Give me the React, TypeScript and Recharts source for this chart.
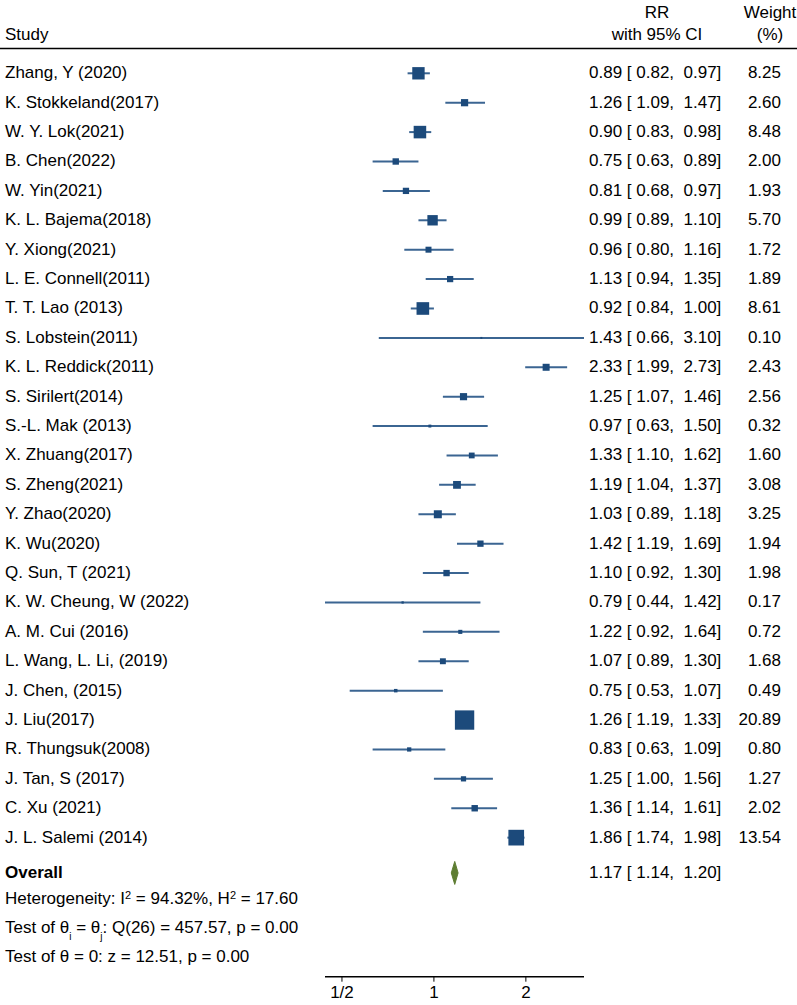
import React from 'react';
import { ComposedChart, Scatter, XAxis, YAxis, ErrorBar } from 'recharts';

const studies = [
  'Zhang, Y (2020)', 'K. Stokkeland(2017)', 'W. Y. Lok(2021)', 'B. Chen(2022)', 'W. Yin(2021)',
  'K. L. Bajema(2018)', 'Y. Xiong(2021)', 'L. E. Connell(2011)', 'T. T. Lao (2013)', 'S. Lobstein(2011)',
  'K. L. Reddick(2011)', 'S. Sirilert(2014)', 'S.-L. Mak (2013)', 'X. Zhuang(2017)', 'S. Zheng(2021)',
  'Y. Zhao(2020)', 'K. Wu(2020)', 'Q. Sun, T (2021)', 'K. W. Cheung, W (2022)', 'A. M. Cui (2016)',
  'L. Wang, L. Li, (2019)', 'J. Chen, (2015)', 'J. Liu(2017)', 'R. Thungsuk(2008)', 'J. Tan, S (2017)',
  'C. Xu (2021)', 'J. L. Salemi (2014)',
];
const rr = [0.89, 1.26, 0.90, 0.75, 0.81, 0.99, 0.96, 1.13, 0.92, 1.43, 2.33, 1.25, 0.97, 1.33, 1.19, 1.03, 1.42, 1.10, 0.79, 1.22, 1.07, 0.75, 1.26, 0.83, 1.25, 1.36, 1.86];
const ciLow = [0.82, 1.09, 0.83, 0.63, 0.68, 0.89, 0.80, 0.94, 0.84, 0.66, 1.99, 1.07, 0.63, 1.10, 1.04, 0.89, 1.19, 0.92, 0.44, 0.92, 0.89, 0.53, 1.19, 0.63, 1.00, 1.14, 1.74];
const ciHigh = [0.97, 1.47, 0.98, 0.89, 0.97, 1.10, 1.16, 1.35, 1.00, 3.10, 2.73, 1.46, 1.50, 1.62, 1.37, 1.18, 1.69, 1.30, 1.42, 1.64, 1.30, 1.07, 1.33, 1.09, 1.56, 1.61, 1.98];
const weights = [8.25, 2.60, 8.48, 2.00, 1.93, 5.70, 1.72, 1.89, 8.61, 0.10, 2.43, 2.56, 0.32, 1.60, 3.08, 3.25, 1.94, 1.98, 0.17, 0.72, 1.68, 0.49, 20.89, 0.80, 1.27, 2.02, 13.54];

const overallRR = 1.17;
const overallLow = 1.14;
const overallHigh = 1.20;

const xTicks = [0.5, 1, 2];
const xDomain = [0.44, 3.1];

const OVERALL_ROW = 27.2;
const FONT = '"Liberation Sans", Arial, sans-serif';
const SQUARE = '#1c4a7b';
const LINE = '#3b6592';
const GREEN = '#5e7d32';

const studyData = studies.map((s, i) => ({
  study: s,
  row: i,
  val: rr[i],
  lo: ciLow[i],
  hi: ciHigh[i],
  w: weights[i],
  err: [rr[i] - ciLow[i], ciHigh[i] - rr[i]],
}));

const diamondData = [
  { val: overallLow, row: OVERALL_ROW },
  { val: overallRR, row: OVERALL_ROW },
  { val: overallHigh, row: OVERALL_ROW },
];

const rowTicks = [...studyData.map((d) => d.row), OVERALL_ROW];

const fmt = (v: number) => v.toFixed(2);
const ciText = (m: number, l: number, h: number) => `${fmt(m)} [ ${fmt(l)},  ${fmt(h)}]`;

function NameTick(props: any) {
  const { y, payload } = props;
  if (payload.value === OVERALL_ROW) {
    return (
      <text x={5} y={y + 5} fontFamily={FONT} fontSize={17} fontWeight="bold" fill="#000">Overall</text>
    );
  }
  const d = studyData[payload.value];
  if (!d) return <g />;
  return (
    <text x={5} y={y + 5} fontFamily={FONT} fontSize={17} fill="#000">{d.study}</text>
  );
}

function StatTick(props: any) {
  const { y, payload } = props;
  if (payload.value === OVERALL_ROW) {
    return (
      <text x={589} y={y + 5} fontFamily={FONT} fontSize={17} fill="#000" style={{ whiteSpace: 'pre' }}>
        {ciText(overallRR, overallLow, overallHigh)}
      </text>
    );
  }
  const d = studyData[payload.value];
  if (!d) return <g />;
  return (
    <g>
      <text x={589} y={y + 5} fontFamily={FONT} fontSize={17} fill="#000" style={{ whiteSpace: 'pre' }}>
        {ciText(d.val, d.lo, d.hi)}
      </text>
      <text x={781} y={y + 5} textAnchor="end" fontFamily={FONT} fontSize={17} fill="#000">
        {fmt(d.w)}
      </text>
    </g>
  );
}

function WeightSquare(props: any) {
  const { cx, cy, payload } = props;
  const side = 4.1 * Math.sqrt(payload.w) + 0.6;
  return <rect x={cx - side / 2} y={cy - side / 2} width={side} height={side} fill={SQUARE} />;
}

function DiamondLine(props: any) {
  const pts = props.points || [];
  if (pts.length < 3) return <g />;
  const [l, m, r] = pts;
  const h = 11.5;
  const d = `M${l.x},${l.y} L${m.x},${m.y - h} L${r.x},${r.y} L${m.x},${m.y + h} Z`;
  return <path d={d} fill={GREEN} stroke={GREEN} strokeWidth={1} />;
}

export default function App() {
  return (
    <div style={{ position: 'absolute', top: 0, left: 0, width: 797, height: 1005, background: '#fff' }}>
      <ComposedChart width={797} height={1005} margin={{ top: 43.9, right: 0, bottom: 0, left: 0 }}>
        <XAxis
          dataKey="val"
          type="number"
          scale="log"
          domain={xDomain}
          allowDataOverflow
          ticks={xTicks}
          interval={0}
          height={28.3}
          tickSize={5}
          tickMargin={4}
          tickFormatter={(v: number) => (v === 0.5 ? '1/2' : String(v))}
          tick={{ fontSize: 17, fontFamily: FONT, fill: '#000' }}
          axisLine={{ stroke: '#000', strokeWidth: 1.5 }}
          tickLine={{ stroke: '#000' }}
        />
        <YAxis
          yAxisId="names"
          dataKey="row"
          type="number"
          domain={[-1, 30.73]}
          reversed
          allowDataOverflow
          ticks={rowTicks}
          interval={0}
          width={325}
          axisLine={false}
          tickLine={false}
          tick={<NameTick />}
        />
        <YAxis
          yAxisId="stats"
          orientation="right"
          dataKey="row"
          type="number"
          domain={[-1, 30.73]}
          reversed
          allowDataOverflow
          ticks={rowTicks}
          interval={0}
          width={213}
          axisLine={false}
          tickLine={false}
          tick={<StatTick />}
        />
        <Scatter yAxisId="names" data={studyData} shape={<WeightSquare />} isAnimationActive={false}>
          <ErrorBar dataKey="err" direction="x" width={0} stroke={LINE} strokeWidth={2} isAnimationActive={false} />
        </Scatter>
        <Scatter
          yAxisId="stats"
          data={diamondData}
          shape={() => <g />}
          line={DiamondLine}
          lineType="joint"
          isAnimationActive={false}
        />
      </ComposedChart>
      <svg width={797} height={1005} style={{ position: 'absolute', top: 0, left: 0, pointerEvents: 'none' }}>
        <g fontFamily={FONT} fontSize={17} fill="#000">
          <text x={5} y={40}>Study</text>
          <text x={657} y={18} textAnchor="middle">RR</text>
          <text x={657} y={40} textAnchor="middle">with 95% CI</text>
          <text x={770} y={18} textAnchor="middle">Weight</text>
          <text x={770} y={40} textAnchor="middle">(%)</text>
          <line x1={0} x2={797} y1={48.5} y2={48.5} stroke="#000" strokeWidth={1.5} />
          <text x={5} y={904}>
            Heterogeneity: I
            <tspan fontSize={11} dy={-5}>2</tspan>
            <tspan dy={5}> = 94.32%, H</tspan>
            <tspan fontSize={11} dy={-5}>2</tspan>
            <tspan dy={5}> = 17.60</tspan>
          </text>
          <text x={5} y={933}>
            Test of θ
            <tspan fontSize={10} dy={7}>i</tspan>
            <tspan dy={-7}> = θ</tspan>
            <tspan fontSize={10} dy={7}>j</tspan>
            <tspan dy={-7}>: Q(26) = 457.57, p = 0.00</tspan>
          </text>
          <text x={5} y={962}>Test of θ = 0: z = 12.51, p = 0.00</text>
        </g>
      </svg>
    </div>
  );
}
